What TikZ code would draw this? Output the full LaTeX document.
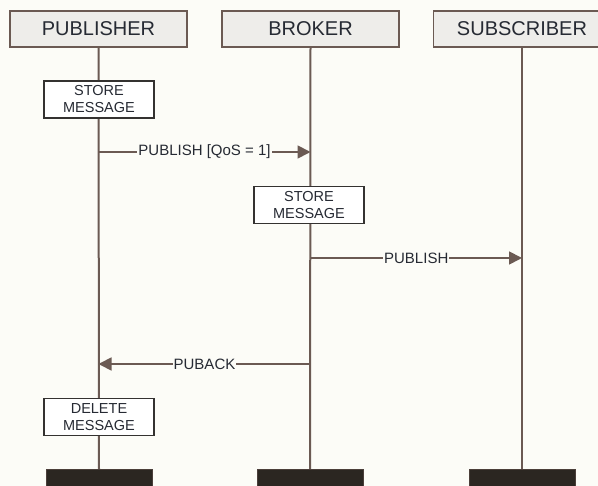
\documentclass[tikz,border=0pt]{standalone}
\usepackage{fontspec}
\setmainfont{Liberation Sans}
\usepackage{xcolor}
\usetikzlibrary{arrows.meta,positioning,backgrounds}
\definecolor{paper}{HTML}{FCFCF7}
\definecolor{lifeline}{HTML}{6B5A53}
\definecolor{headfill}{HTML}{EEEDEA}
\definecolor{boxline}{HTML}{343230}
\definecolor{ink}{HTML}{262A33}
\definecolor{endfill}{HTML}{2B2621}

\begin{document}
\begin{tikzpicture}[x=1pt, y=-1pt,
  head/.style={draw=lifeline, line width=1.8pt, fill=headfill, minimum width=177pt, minimum height=36pt, inner sep=0pt, text=ink, font=\fontsize{20}{22}\selectfont},
  action/.style={draw=boxline, line width=1.6pt, fill=white, minimum width=110pt, minimum height=37pt, inner sep=0pt, align=center, text=ink, font=\fontsize{14.5}{17}\selectfont},
  tail/.style={draw=lifeline!70!black, line width=1pt, fill=endfill, minimum width=106pt, minimum height=40pt, anchor=north, inner sep=0pt},
  msg/.style={draw=lifeline, line width=1.8pt, -{Triangle[length=13pt, width=13pt]}},
  msglabel/.style={fill=paper, inner sep=1pt, text=ink, font=\fontsize{15}{17}\selectfont}]
\useasboundingbox (0,0) rectangle (598,486);
\clip (0,0) rectangle (598,486);
% participants
\node[head] (pub) at (98.5,29) {PUBLISHER};
\node[head] (brk) at (310.5,29) {BROKER};
\node[head] (sub) at (522,29) {SUBSCRIBER};
% actions on the lifelines
\node[action] (store1) at (99,99.5) {STORE\\MESSAGE};
\node[action] (store2) at (309,205) {STORE\\MESSAGE};
\node[action] (delete) at (99,417) {DELETE\\MESSAGE};
% end of lifelines
\node[tail] (pubend) at (99,469) {};
\node[tail] (brkend) at (310,469) {};
\node[tail] (subend) at (522,469) {};
\begin{scope}[on background layer]
\fill[paper] (0,0) rectangle (598,486);
\draw[lifeline, line width=2pt] (pub.south) -- (pubend.north);
\draw[lifeline, line width=2pt] (brk.south) -- (brkend.north);
\draw[lifeline, line width=2pt] (sub.south) -- (subend.north);
\end{scope}
% messages
\coordinate (m1a) at (pub |- 0,152);
\coordinate (m1b) at (brk |- 0,152);
\coordinate (m2a) at (brk |- 0,258);
\coordinate (m2b) at (sub |- 0,258);
\coordinate (m3a) at (brk |- 0,364);
\coordinate (m3b) at (pub |- 0,364);
\draw[msg] (m1a) -- node[msglabel] (l1) {PUBLISH [QoS = 1]} (m1b);
\draw[msg] (m2a) -- node[msglabel] (l2) {PUBLISH} (m2b);
\draw[msg] (m3a) -- node[msglabel] (l3) {PUBACK} (m3b);
\end{tikzpicture}
\end{document}
